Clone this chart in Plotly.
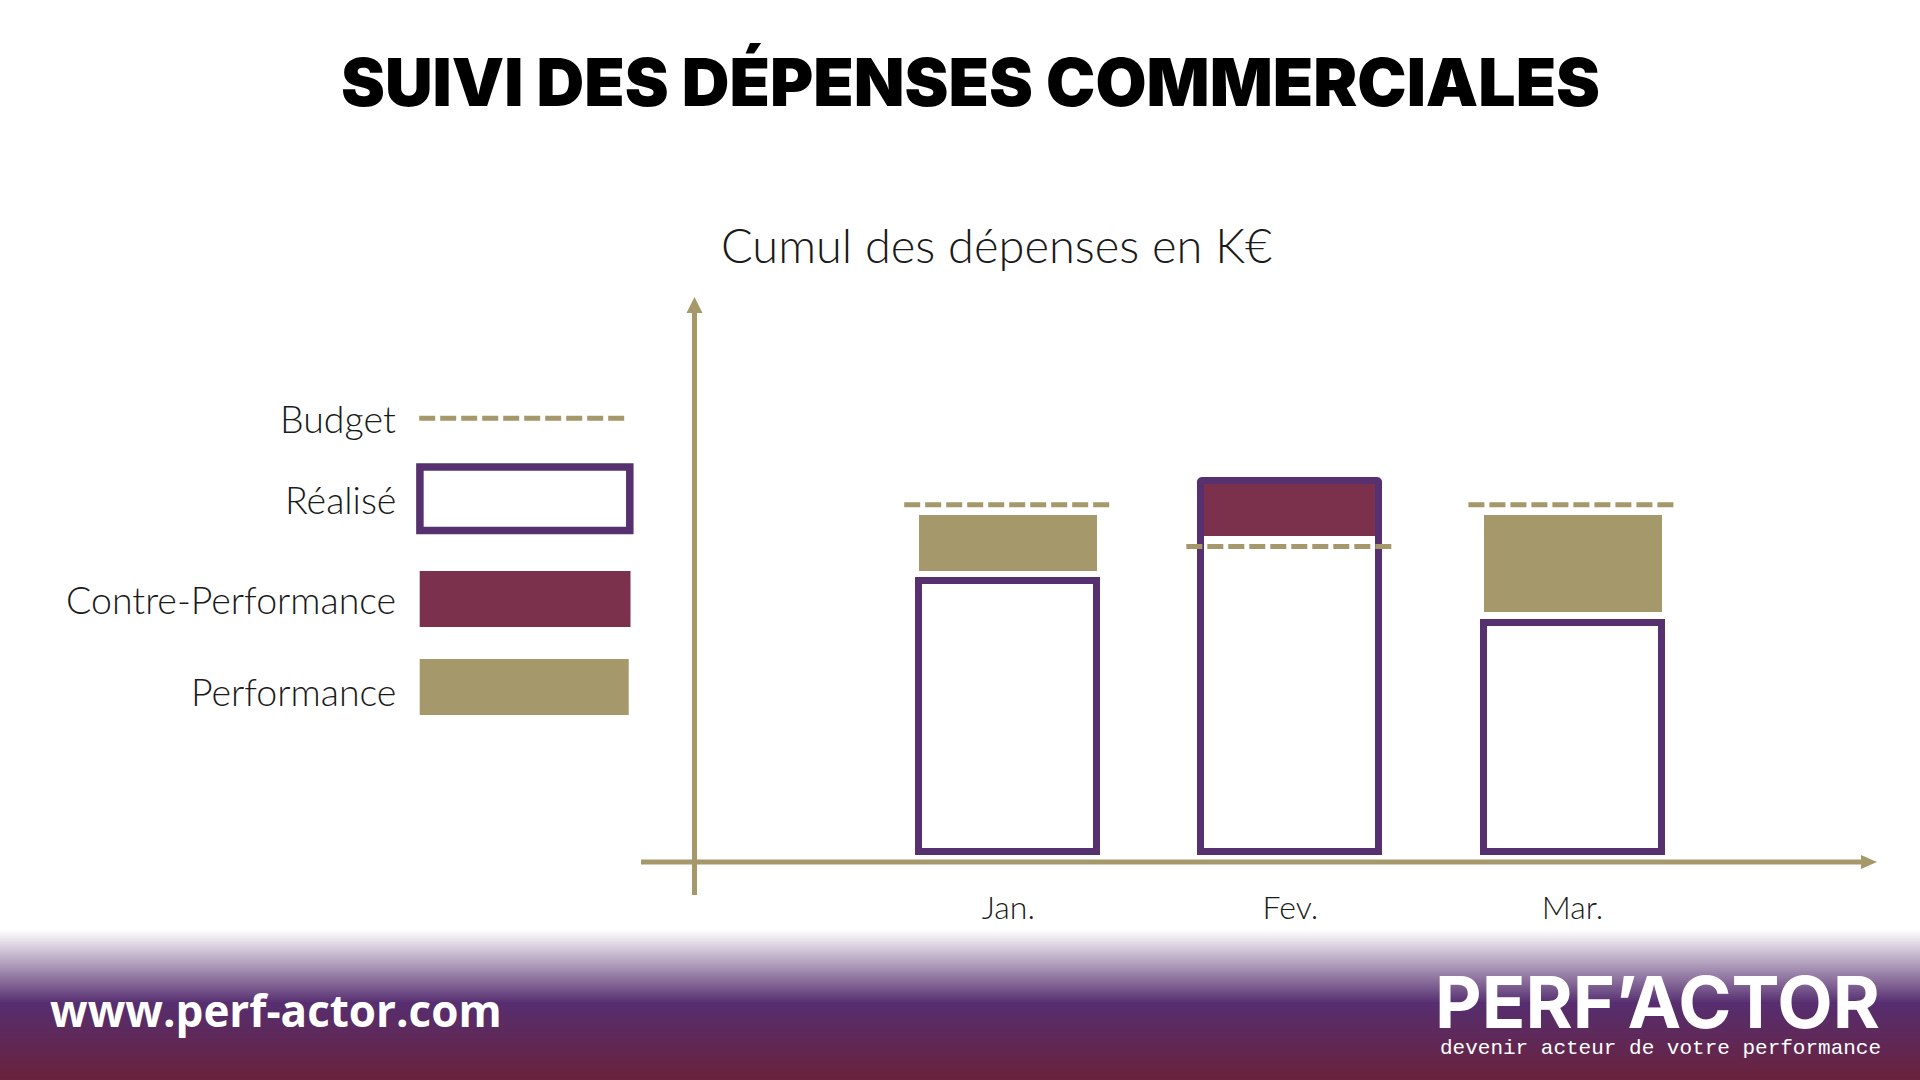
import plotly.graph_objects as go

# ---------------- data ----------------
months = ["Jan.", "Fev.", "Mar."]
budget = [100, 88, 100]          # K€ (cumul budget)
realise = [78, 107, 66]          # K€ (cumul réalisé)
legend_labels = ["Budget", "Réalisé", "Contre-Performance", "Performance"]
title_text = "SUIVI DES DÉPENSES COMMERCIALES"
subtitle_text = "Cumul des dépenses en K€"
url_text = "www.perf-actor.com"
logo_text = "PERF’ACTOR"
tagline_text = "devenir acteur de votre performance"

# ---------------- styles ----------------
GOLD = "#A5986B"
PURPLE = "#56306F"
MAROON = "#7B304B"
TXT = "#1a1a1a"
W, H = 1920, 1080


def px(x):
    return x / W


def py(y):
    return 1 - y / H


GAP = 3            # visual gap (value units) between boxes and lines
BAR_W = 0.631
BUD_HALF = 0.369

x_idx = list(range(len(months)))
perf_base = [r + GAP if b > r else None for r, b in zip(realise, budget)]
perf_h = [b - r - 2 * GAP if b > r else None for r, b in zip(realise, budget)]
contre_base = [b + GAP if r > b else None for r, b in zip(realise, budget)]
contre_h = [r - b - GAP if r > b else None for r, b in zip(realise, budget)]

bx, by = [], []
for i, b in zip(x_idx, budget):
    bx += [i - BUD_HALF, i + BUD_HALF, None]
    by += [b, b, None]

fig = go.Figure()
fig.add_trace(go.Bar(x=x_idx, y=perf_h, base=perf_base, width=BAR_W,
                     marker=dict(color=GOLD, line=dict(width=0)),
                     hoverinfo="skip", showlegend=False))
fig.add_trace(go.Bar(x=x_idx, y=contre_h, base=contre_base, width=BAR_W,
                     marker=dict(color=MAROON, line=dict(width=0)),
                     hoverinfo="skip", showlegend=False))
fig.add_trace(go.Bar(x=x_idx, y=realise, width=BAR_W,
                     marker=dict(color="rgba(0,0,0,0)",
                                 line=dict(color=PURPLE, width=7),
                                 cornerradius=2),
                     hoverinfo="skip", showlegend=False))
fig.add_trace(go.Scatter(x=bx, y=by, mode="lines",
                         line=dict(color=GOLD, width=5, dash="16px,5px"),
                         hoverinfo="skip", showlegend=False, cliponaxis=False))

# axis mapping (pixel geometry)
X0, XS = 1008.3, 282.1     # pixel of x=0, pixels per category
Y0, YS = 851.5, 3.467      # pixel of y=0, pixels per K€
YB, YT = 885, 297

shapes = []
# footer gradient
stops = [(930, (255, 255, 255)), (1003, (86, 46, 112)), (1080, (106, 34, 60))]


def col_at(y):
    for (y1, c1), (y2, c2) in zip(stops[:-1], stops[1:]):
        if y1 <= y <= y2:
            t = (y - y1) / (y2 - y1)
            return "rgb(%d,%d,%d)" % tuple(round(a + (b - a) * t) for a, b in zip(c1, c2))
    return "rgb(255,255,255)"


for y in range(930, 1080, 2):
    shapes.append(dict(type="rect", xref="paper", yref="paper", layer="below",
                       x0=0, x1=1, y0=py(y + 2.5), y1=py(y),
                       fillcolor=col_at(y + 1), line=dict(width=0)))

# axes lines with arrow heads
shapes.append(dict(type="line", xref="paper", yref="paper", x0=px(641), x1=px(1865),
                   y0=py(862), y1=py(862), line=dict(color=GOLD, width=5)))
shapes.append(dict(type="path", xref="paper", yref="paper",
                   path="M %f,%f L %f,%f L %f,%f Z" % (px(1877), py(862), px(1861), py(855), px(1861), py(869)),
                   fillcolor=GOLD, line=dict(width=0)))
shapes.append(dict(type="line", xref="paper", yref="paper", x0=px(694.5), x1=px(694.5),
                   y0=py(895), y1=py(309), line=dict(color=GOLD, width=5)))
shapes.append(dict(type="path", xref="paper", yref="paper",
                   path="M %f,%f L %f,%f L %f,%f Z" % (px(694.5), py(297), px(686.5), py(313), px(702.5), py(313)),
                   fillcolor=GOLD, line=dict(width=0)))

# legend symbols
LX = -2.5
shapes.append(dict(type="line", xref="paper", yref="paper", x0=px(421.7 + LX), x1=px(631.2 + LX),
                   y0=py(418.3), y1=py(418.3), line=dict(color=GOLD, width=5, dash="16px,5px")))
shapes.append(dict(type="rect", xref="paper", yref="paper", x0=px(422.4 + LX), x1=px(632.3 + LX),
                   y0=py(530.6), y1=py(467), fillcolor="white", line=dict(color=PURPLE, width=7.5)))
shapes.append(dict(type="rect", xref="paper", yref="paper", x0=px(422.2 + LX), x1=px(633 + LX),
                   y0=py(627), y1=py(571), fillcolor=MAROON, line=dict(width=0)))
shapes.append(dict(type="rect", xref="paper", yref="paper", x0=px(422.2 + LX), x1=px(631.2 + LX),
                   y0=py(715), y1=py(659), fillcolor=GOLD, line=dict(width=0)))

annotations = []


def ann(text, x, y, size, family, weight=400, color=TXT, xanchor="center"):
    annotations.append(dict(text=text, x=px(x), y=py(y), xref="paper", yref="paper",
                            showarrow=False, xanchor=xanchor, yanchor="middle",
                            font=dict(family=family, size=size, color=color, weight=weight)))


ann(title_text, 970, 82, 66, "Inter", 900, "#000000")
ann(subtitle_text, 996, 245, 47, "Lato", 300)
for lab, yc in zip(legend_labels, [418.2, 499.8, 599.8, 691.5]):
    ann(lab, 397.5, yc, 37.5, "Lato", 300, xanchor="right")
ann(url_text, 48, 1010, 44, "Open Sans", 700, "white", xanchor="left")
ann(logo_text, 1882, 1001, 72, "Inter", 700, "white", xanchor="right")
ann(tagline_text, 1883, 1048, 21, "Liberation Mono", 400, "white", xanchor="right")

fig.update_layout(
    width=W, height=H, autosize=False,
    margin=dict(l=0, r=0, t=0, b=0),
    paper_bgcolor="white", plot_bgcolor="rgba(0,0,0,0)",
    barmode="overlay", bargap=0,
    shapes=shapes, annotations=annotations,
    xaxis=dict(domain=[0, 1], range=[-X0 / XS, (W - X0) / XS],
               tickvals=x_idx, ticktext=months, showgrid=False, zeroline=False,
               showline=False, ticks="", ticklabelstandoff=1,
               tickfont=dict(family="Lato", size=32, color=TXT, weight=300)),
    yaxis=dict(domain=[py(YB), py(YT)], range=[(Y0 - YB) / YS, (Y0 - YT) / YS],
               showgrid=False, zeroline=False, showline=False, showticklabels=False, ticks=""),
    font=dict(family="Lato"),
    showlegend=False,
)

fig.write_html("out.html")
